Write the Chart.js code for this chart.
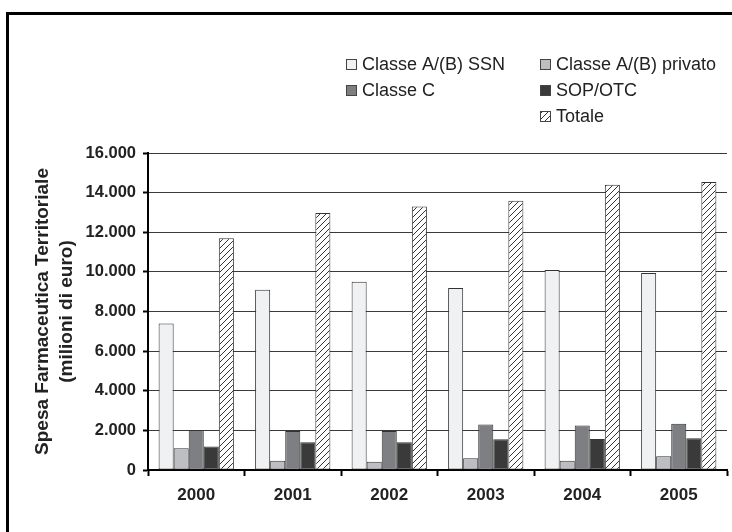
<!DOCTYPE html>
<html>
<head>
<meta charset="utf-8">
<script src="https://cdn.jsdelivr.net/npm/chart.js@4.4.1/dist/chart.umd.min.js"></script>
<style>
  html, body { margin: 0; padding: 0; background: #fff; }
  #wrap { position: relative; width: 732px; height: 532px; overflow: hidden; }
  #frame { position: absolute; left: 6px; top: 12px; width: 800px; height: 600px;
           border-left: 3px solid #000; border-top: 3px solid #000; box-sizing: border-box; }
  canvas { position: absolute; left: 0; top: 0; }
</style>
</head>
<body>
<div id="wrap">
  <div id="frame"></div>
  <canvas id="chart" width="732" height="532"></canvas>
</div>
<script>
// Spesa farmaceutica territoriale 2000-2005 (milioni di euro)
const years = ['2000', '2001', '2002', '2003', '2004', '2005'];
const classeABSsn = [7400, 9100, 9500, 9180, 10100, 9940];
const classeABPrivato = [1100, 470, 420, 590, 470, 700];
const classeC = [2020, 1970, 1970, 2300, 2250, 2340];
const sopOtc = [1180, 1400, 1400, 1550, 1560, 1600];
const totale = [11700, 12970, 13300, 13590, 14400, 14540];
const yTicks = [0, 2000, 4000, 6000, 8000, 10000, 12000, 14000, 16000];

// diagonal hatch for the "Totale" bars
function makeHatch() {
    const c = document.createElement('canvas');
    c.width = 6; c.height = 6;
    const g = c.getContext('2d');
    g.fillStyle = '#fff';
    g.fillRect(0, 0, 6, 6);
    g.strokeStyle = '#333';
    g.lineWidth = 1;
    g.beginPath();
    g.moveTo(-1, 7); g.lineTo(7, -1);
    g.moveTo(-4, 4); g.lineTo(4, -4);
    g.moveTo(2, 10); g.lineTo(10, 2);
    g.stroke();
    return g.createPattern(c, 'repeat');
}
const hatch = makeHatch();

function fmt(v) {
    return String(v).replace(/\B(?=(\d{3})+(?!\d))/g, '.');
}

// two-column legend like the original spreadsheet chart
const legendLayout = [
    { ds: 0, col: 0, row: 0 },
    { ds: 1, col: 1, row: 0 },
    { ds: 2, col: 0, row: 1 },
    { ds: 3, col: 1, row: 1 },
    { ds: 4, col: 1, row: 2 }
];
const boxLegend = {
    id: 'boxLegend',
    afterDraw(chart) {
        const ctx = chart.ctx;
        const colX = [346, 540];
        const rowY = [64, 90, 116];
        ctx.save();
        ctx.font = '18px "Liberation Sans", Arial, sans-serif';
        ctx.textBaseline = 'middle';
        legendLayout.forEach(item => {
            const ds = chart.data.datasets[item.ds];
            const x = colX[item.col], y = rowY[item.row];
            ctx.fillStyle = ds.backgroundColor;
            ctx.fillRect(x, y - 5, 11, 11);
            ctx.strokeStyle = '#444';
            ctx.lineWidth = 1;
            ctx.strokeRect(x + 0.5, y - 4.5, 10, 10);
            ctx.fillStyle = '#222';
            ctx.fillText(ds.label, x + 16, y + 1);
        });
        ctx.restore();
    }
};

const bold = '"Liberation Sans", Arial, sans-serif';

new Chart(document.getElementById('chart'), {
    type: 'bar',
    data: {
        labels: years,
        datasets: [
            { label: 'Classe A/(B) SSN', data: classeABSsn, backgroundColor: '#f0f1f3' },
            { label: 'Classe A/(B) privato', data: classeABPrivato, backgroundColor: '#bdbec2' },
            { label: 'Classe C', data: classeC, backgroundColor: '#7e7f83' },
            { label: 'SOP/OTC', data: sopOtc, backgroundColor: '#3a3a3b' },
            { label: 'Totale', data: totale, backgroundColor: hatch }
        ].map(d => Object.assign(d, {
            borderColor: '#333',
            borderWidth: 1,
            borderSkipped: false,
            categoryPercentage: 0.78,
            barPercentage: 1
        }))
    },
    options: {
        responsive: false,
        animation: false,
        layout: { padding: { top: 153, right: 5, left: 0, bottom: 0 } },
        plugins: {
            legend: { display: false },
            tooltip: { enabled: false }
        },
        scales: {
            x: {
                grid: {
                    offset: true,
                    drawOnChartArea: false,
                    tickLength: 6,
                    tickColor: '#000',
                    tickWidth: 2
                },
                border: { color: '#000', width: 2 },
                ticks: {
                    color: '#222',
                    padding: 9,
                    font: { family: bold, size: 17, weight: 'bold' }
                },
                afterFit: s => { s.height = 62; }
            },
            y: {
                min: 0,
                max: 16000,
                afterBuildTicks: s => { s.ticks = yTicks.map(v => ({ value: v })); },
                grid: {
                    color: '#3a3a3a',
                    lineWidth: 1,
                    tickLength: 5,
                    tickColor: '#000',
                    tickWidth: 2
                },
                border: { color: '#000', width: 2 },
                ticks: {
                    color: '#222',
                    padding: 7,
                    font: { family: bold, size: 16.5, weight: 'bold' },
                    callback: v => fmt(v)
                },
                title: {
                    display: true,
                    text: ['Spesa Farmaceutica Territoriale', '(milioni di euro)'],
                    color: '#222',
                    font: { family: bold, size: 19, weight: 'bold', lineHeight: 1.24 },
                    padding: { top: 31, bottom: 0 }
                },
                afterFit: s => { s.width = 148; }
            }
        }
    },
    plugins: [boxLegend]
});
</script>
</body>
</html>
